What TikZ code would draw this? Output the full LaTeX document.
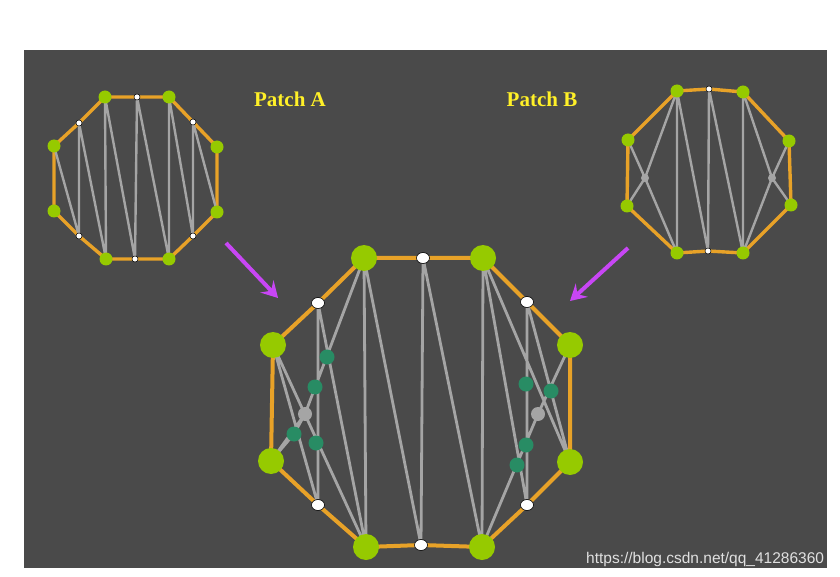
\documentclass[tikz,border=0pt]{standalone}
\usepackage{fontspec}
\setmainfont{Liberation Serif}
\newfontfamily\wmfont{Liberation Sans}
\usetikzlibrary{arrows.meta,shapes.geometric}
\definecolor{bgc}{RGB}{74,74,74}
\definecolor{orng}{RGB}{232,162,40}
\definecolor{grn}{RGB}{150,202,0}
\definecolor{edg}{RGB}{165,165,165}
\definecolor{tealc}{RGB}{40,140,100}
\definecolor{mag}{RGB}{200,70,245}
\definecolor{ylw}{RGB}{255,240,40}
\pgfdeclarelayer{bgl}\pgfdeclarelayer{edl}
\pgfsetlayers{bgl,edl,main}
\begin{document}
\begin{tikzpicture}[x=1pt,y=-1pt,
 G/.style={circle,fill=grn,inner sep=0,minimum size=26pt},
 g/.style={circle,fill=grn,inner sep=0,minimum size=13pt},
 W/.style={ellipse,fill=white,draw=black,line width=0.6pt,inner sep=0,minimum width=13pt,minimum height=11pt},
 w/.style={circle,fill=white,draw=black,line width=0.5pt,inner sep=0,minimum size=6pt},
 T/.style={circle,fill=tealc,inner sep=0,minimum size=15pt},
 X/.style={circle,fill=edg,inner sep=0,minimum size=14pt},
 xs/.style={circle,fill=edg,inner sep=0,minimum size=8pt},
 bd/.style={orng,line width=4pt},
 bdS/.style={orng,line width=3.4pt},
 ed/.style={edg,line width=2.8pt},
 edS/.style={edg,line width=2.4pt},
 ar/.style={mag,line width=4pt,-{Stealth[length=16pt,width=18pt,inset=6pt]}},
 lab/.style={ylw,font=\bfseries\fontsize{21}{24}\selectfont}]
\useasboundingbox (0,0) rectangle (840,577);
\begin{pgfonlayer}{bgl}
\fill[bgc] (24,50) rectangle (827,568);
\end{pgfonlayer}
% ---- Big patch
\node[G] (b1) at (364,258) {}; \node[W] (bw1) at (423,258) {}; \node[G] (b2) at (483,258) {};
\node[W] (bw2) at (527,302) {}; \node[G] (b3) at (570,345) {}; \node[G] (b4) at (570,462) {};
\node[W] (bw3) at (527,505) {}; \node[G] (b5) at (482,547) {}; \node[W] (bw4) at (421,545) {};
\node[G] (b6) at (366,547) {}; \node[W] (bw5) at (318,505) {}; \node[G] (b7) at (271,461) {};
\node[G] (b8) at (273,345) {}; \node[W] (bw6) at (318,303) {};
\node[X] (bxl) at (305,414) {}; \node[X] (bxr) at (538,414) {};
\node[T] (t1) at (327,357) {}; \node[T] (t2) at (315,387) {}; \node[T] (t3) at (294,434) {}; \node[T] (t4) at (316,443) {};
\node[T] (t5) at (526,384) {}; \node[T] (t6) at (551,391) {}; \node[T] (t7) at (526,445) {}; \node[T] (t8) at (517,465) {};
\begin{pgfonlayer}{edl}
\draw[bd] (b1.center)--(bw1.center)--(b2.center)--(bw2.center)--(b3.center)--(b4.center)--(bw3.center)--(b5.center)--(bw4.center)--(b6.center)--(bw5.center)--(b7.center)--(b8.center)--(bw6.center)--cycle;
\draw[ed] (b8.center)--(b6.center) (b8.center)--(bw5.center) (bw6.center)--(bw5.center) (bw6.center)--(b6.center)
 (b7.center)--(bxl.center)--(b1.center) (b7.center)--(t3.center)--(bxl.center) (b1.center)--(b6.center) (b1.center)--(bw4.center)
 (bw1.center)--(bw4.center) (bw1.center)--(b5.center) (b2.center)--(b5.center)
 (b2.center)--(bw3.center) (b2.center)--(b4.center) (bw2.center)--(bw3.center) (bw2.center)--(b4.center)
 (b3.center)--(bxr.center)--(b5.center);
\end{pgfonlayer}
% ---- Patch A
\node[g] (a1) at (105,97) {}; \node[w] (aw1) at (137,97) {}; \node[g] (a2) at (169,97) {};
\node[w] (aw2) at (193,122) {}; \node[g] (a3) at (217,147) {}; \node[g] (a4) at (217,212) {};
\node[w] (aw3) at (193,236) {}; \node[g] (a5) at (169,259) {}; \node[w] (aw4) at (135,259) {};
\node[g] (a6) at (106,259) {}; \node[w] (aw5) at (79,236) {}; \node[g] (a7) at (54,211) {};
\node[g] (a8) at (54,146) {}; \node[w] (aw6) at (79,123) {};
\begin{pgfonlayer}{edl}
\draw[bdS] (a1.center)--(aw1.center)--(a2.center)--(aw2.center)--(a3.center)--(a4.center)--(aw3.center)--(a5.center)--(aw4.center)--(a6.center)--(aw5.center)--(a7.center)--(a8.center)--(aw6.center)--cycle;
\draw[edS] (a8.center)--(aw5.center) (aw6.center)--(aw5.center) (aw6.center)--(a6.center) (a1.center)--(a6.center)
 (a1.center)--(aw4.center) (aw1.center)--(aw4.center) (aw1.center)--(a5.center) (a2.center)--(a5.center)
 (a2.center)--(aw3.center) (aw2.center)--(aw3.center) (aw2.center)--(a4.center);
\end{pgfonlayer}
% ---- Patch B
\node[g] (c1) at (677,91) {}; \node[w] (cw1) at (709,89) {}; \node[g] (c2) at (743,92) {};
\node[g] (c3) at (789,141) {}; \node[g] (c4) at (791,205) {}; \node[g] (c5) at (743,253) {};
\node[w] (cw2) at (708,251) {}; \node[g] (c6) at (677,253) {}; \node[g] (c7) at (627,206) {};
\node[g] (c8) at (628,140) {};
\node[xs] (cxl) at (645,178) {}; \node[xs] (cxr) at (772,178) {};
\begin{pgfonlayer}{edl}
\draw[bdS] (c1.center)--(cw1.center)--(c2.center)--(c3.center)--(c4.center)--(c5.center)--(cw2.center)--(c6.center)--(c7.center)--(c8.center)--cycle;
\draw[edS] (c8.center)--(cxl.center)--(c6.center) (c7.center)--(cxl.center)--(c1.center) (c1.center)--(c6.center)
 (c1.center)--(cw2.center) (cw1.center)--(cw2.center) (cw1.center)--(c5.center) (c2.center)--(c5.center)
 (c2.center)--(cxr.center)--(c4.center) (c3.center)--(cxr.center)--(c5.center);
\end{pgfonlayer}
% ---- labels, arrows
\node[lab] (la) at (290,99) {Patch A};
\node[lab] (lb) at (542,99) {Patch B};
\coordinate (aa0) at (226,243); \coordinate (aa1) at (278,298);
\coordinate (ab0) at (628,248); \coordinate (ab1) at (570,301);
\draw[ar] (aa0)--(aa1);
\draw[ar] (ab0)--(ab1);
\node[anchor=base west,text=white!88!black,font=\wmfont\fontsize{15.5}{17}\selectfont,inner sep=0] (wm) at (586,563) {https://blog.csdn.net/qq\_41286360};
\end{tikzpicture}
\end{document}
